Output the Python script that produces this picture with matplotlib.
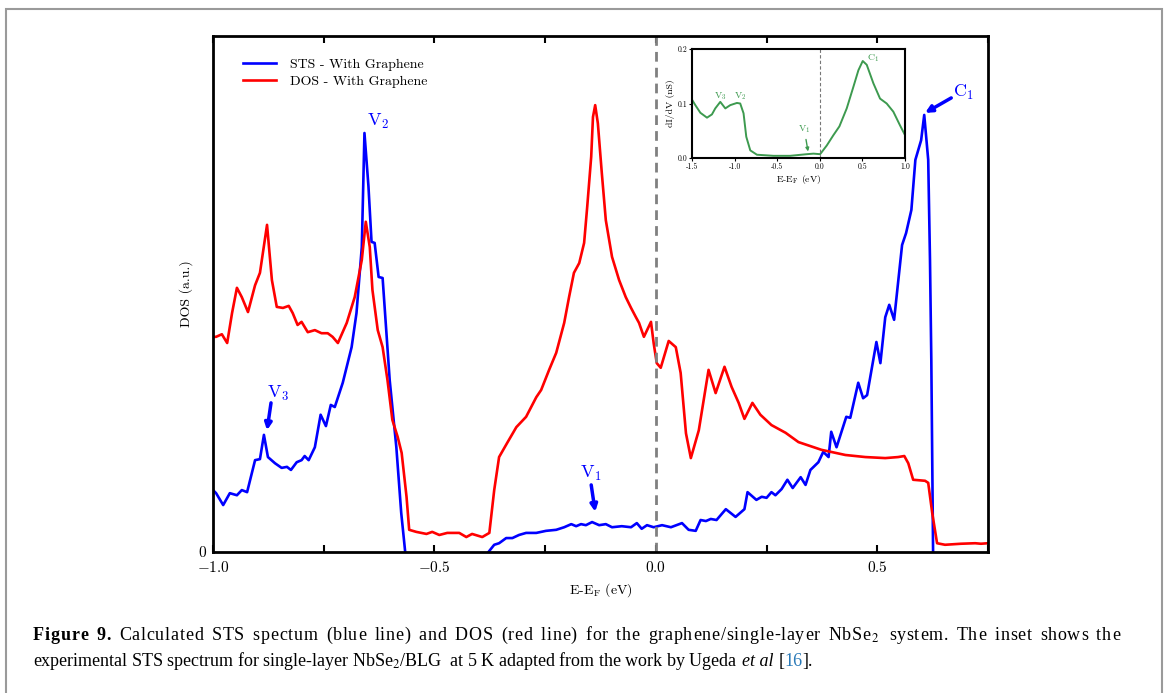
import numpy as np
import matplotlib
matplotlib.use("Agg")
import matplotlib.pyplot as plt
from matplotlib.patches import Rectangle
from matplotlib.font_manager import FontProperties

# -----------------------
# Data
# -----------------------
# STS - With Graphene (blue); NaN marks where the curve runs below zero
sts_e = [-1.000, -0.993, -0.977, -0.962, -0.946, -0.935, -0.923, -0.905, -0.894, -0.885,
         -0.876, -0.860, -0.845, -0.833, -0.824, -0.811, -0.800, -0.793, -0.784, -0.770,
         -0.757, -0.745, -0.734, -0.725, -0.707, -0.687, -0.676, -0.664, -0.658, -0.649,
         -0.642, -0.635, -0.626, -0.617, -0.601, -0.586, -0.575, -0.566, -0.470,
         -0.378, -0.365, -0.354, -0.338, -0.324, -0.309, -0.293, -0.270, -0.248, -0.225,
         -0.207, -0.191, -0.180, -0.169, -0.158, -0.144, -0.128, -0.113, -0.099, -0.077,
         -0.056, -0.043, -0.032, -0.020, -0.005, 0.014, 0.034, 0.059, 0.074, 0.090,
         0.101, 0.113, 0.124, 0.137, 0.158, 0.180, 0.200, 0.207, 0.227, 0.239,
         0.250, 0.261, 0.270, 0.284, 0.297, 0.309, 0.327, 0.338, 0.349, 0.367,
         0.378, 0.390, 0.396, 0.408, 0.430, 0.439, 0.457, 0.468, 0.477, 0.498,
         0.507, 0.518, 0.527, 0.538, 0.556, 0.565, 0.577, 0.586, 0.599, 0.606,
         0.615, 0.619, 0.622, 0.626]
sts_dos = [0.120, 0.114, 0.091, 0.114, 0.110, 0.120, 0.116, 0.178, 0.180, 0.227,
           0.184, 0.172, 0.163, 0.165, 0.159, 0.174, 0.178, 0.186, 0.178, 0.203,
           0.266, 0.244, 0.285, 0.281, 0.328, 0.397, 0.463, 0.591, 0.812, 0.709,
           0.601, 0.599, 0.533, 0.531, 0.333, 0.203, 0.076, 0.000, np.nan,
           0.000, 0.014, 0.017, 0.027, 0.027, 0.033, 0.037, 0.037, 0.041, 0.043,
           0.048, 0.054, 0.050, 0.054, 0.052, 0.058, 0.052, 0.054, 0.048, 0.050,
           0.048, 0.056, 0.045, 0.052, 0.048, 0.052, 0.048, 0.056, 0.043, 0.041,
           0.062, 0.060, 0.064, 0.062, 0.083, 0.068, 0.083, 0.116, 0.101, 0.107,
           0.105, 0.116, 0.110, 0.122, 0.140, 0.124, 0.145, 0.130, 0.159, 0.174,
           0.194, 0.184, 0.233, 0.203, 0.262, 0.260, 0.328, 0.298, 0.304, 0.407,
           0.366, 0.455, 0.479, 0.450, 0.595, 0.618, 0.663, 0.760, 0.798, 0.847,
           0.760, 0.566, 0.372, 0.000]

# DOS - With Graphene (red)
dos_e = [-1.000, -0.993, -0.980, -0.968, -0.957, -0.946, -0.935, -0.921, -0.905, -0.894,
         -0.878, -0.867, -0.856, -0.842, -0.829, -0.820, -0.809, -0.800, -0.786, -0.770,
         -0.755, -0.741, -0.730, -0.718, -0.698, -0.680, -0.664, -0.655, -0.646, -0.640,
         -0.628, -0.617, -0.606, -0.595, -0.583, -0.574, -0.563, -0.557, -0.541, -0.518,
         -0.505, -0.489, -0.471, -0.444, -0.428, -0.415, -0.392, -0.376, -0.365, -0.354,
         -0.336, -0.315, -0.293, -0.270, -0.259, -0.241, -0.225, -0.207, -0.196, -0.185,
         -0.173, -0.162, -0.155, -0.146, -0.142, -0.137, -0.131, -0.122, -0.113, -0.099,
         -0.083, -0.068, -0.056, -0.045, -0.038, -0.027, -0.011, -0.005, 0.002, 0.011,
         0.029, 0.045, 0.056, 0.068, 0.079, 0.097, 0.119, 0.135, 0.155, 0.171,
         0.187, 0.200, 0.218, 0.236, 0.261, 0.293, 0.322, 0.374, 0.428, 0.473,
         0.518, 0.547, 0.561, 0.570, 0.581, 0.608, 0.615, 0.624, 0.635, 0.653,
         0.689, 0.721, 0.734, 0.750]
dos_val = [0.417, 0.417, 0.422, 0.405, 0.463, 0.512, 0.494, 0.465, 0.517, 0.541,
           0.634, 0.527, 0.475, 0.473, 0.477, 0.463, 0.440, 0.446, 0.426, 0.430,
           0.424, 0.424, 0.417, 0.405, 0.444, 0.494, 0.566, 0.640, 0.591, 0.508,
           0.430, 0.397, 0.333, 0.256, 0.223, 0.192, 0.107, 0.043, 0.039, 0.035,
           0.039, 0.033, 0.037, 0.037, 0.029, 0.035, 0.029, 0.037, 0.120, 0.184,
           0.211, 0.242, 0.262, 0.300, 0.314, 0.353, 0.386, 0.444, 0.494, 0.541,
           0.560, 0.599, 0.669, 0.766, 0.843, 0.866, 0.831, 0.734, 0.643, 0.572,
           0.527, 0.494, 0.473, 0.455, 0.444, 0.417, 0.446, 0.405, 0.366, 0.357,
           0.409, 0.397, 0.347, 0.230, 0.182, 0.236, 0.353, 0.308, 0.359, 0.320,
           0.289, 0.258, 0.289, 0.266, 0.246, 0.231, 0.213, 0.198, 0.188, 0.184,
           0.182, 0.184, 0.186, 0.172, 0.140, 0.138, 0.134, 0.076, 0.017, 0.014,
           0.016, 0.017, 0.016, 0.017]

# Inset: experimental dI/dV (Ugeda et al)
inset_e = [-1.500, -1.461, -1.402, -1.324, -1.266, -1.227, -1.168, -1.109, -1.051, -0.973,
           -0.934, -0.895, -0.863, -0.816, -0.738, -0.543, -0.348, -0.152, -0.074, 0.004,
           0.082, 0.160, 0.230, 0.316, 0.395, 0.453, 0.504, 0.551, 0.629, 0.707,
           0.785, 0.863, 0.941, 1.000]
inset_didv = [0.107, 0.097, 0.083, 0.074, 0.080, 0.091, 0.103, 0.091, 0.097, 0.101,
              0.100, 0.082, 0.039, 0.014, 0.006, 0.004, 0.004, 0.007, 0.008, 0.007,
              0.023, 0.042, 0.058, 0.091, 0.131, 0.161, 0.178, 0.171, 0.137, 0.109,
              0.100, 0.085, 0.060, 0.042]

# -----------------------
# Style
# -----------------------
plt.rcParams["font.family"] = "cmr10"
plt.rcParams["mathtext.fontset"] = "cm"
plt.rcParams["axes.formatter.use_mathtext"] = True
plt.rcParams["axes.unicode_minus"] = True

BLUE = "#0000ff"
RED = "#ff0000"
GREEN = "#3d9a4f"

fig = plt.figure(figsize=(11.68, 6.93), dpi=100)

# outer frame of the figure panel
fig.patches.append(Rectangle((6 / 1168, -0.05), 1156 / 1168, 1.05 - 9 / 693,
                             transform=fig.transFigure, fill=False,
                             edgecolor="#9a9a9a", lw=1.5))

# -----------------------
# Main axes
# -----------------------
ax = fig.add_axes([213 / 1168, 1 - 552 / 693, 775 / 1168, 516 / 693])
ax.plot(sts_e, sts_dos, color=BLUE, lw=1.9, label="STS - With Graphene")
ax.plot(dos_e, dos_val, color=RED, lw=1.9, label="DOS - With Graphene")
ax.axvline(0.0, color="#808080", lw=2, linestyle=(0, (3.5, 2.2)))

ax.set_xlim(-1.0, 0.75)
ax.set_ylim(0, 1.0)
ax.set_xticks(np.arange(-1.0, 0.76, 0.25))
ax.set_xticklabels(["$-1.0$", "", "$-0.5$", "", "$0.0$", "", "$0.5$", ""])
ax.set_yticks([0])
ax.set_yticklabels(["0"])
ax.tick_params(axis="x", direction="in", top=True, length=5, width=1.5, labelsize=11, pad=6)
ax.tick_params(axis="y", length=0, labelsize=11, pad=5)
for s in ax.spines.values():
    s.set_linewidth(2)
ax.set_xlabel("E-E$_\\mathrm{F}$ (eV)", fontsize=10, labelpad=4)
ax.set_ylabel("DOS (a.u.)", fontsize=10, labelpad=4)

ax.legend(loc="upper left", bbox_to_anchor=(0.022, 0.982), frameon=False,
          fontsize=10, handlelength=2.4, handletextpad=1.0, labelspacing=0.35)

# peak labels
arrow_kw = dict(arrowstyle="-|>", color=BLUE, lw=2.5, mutation_scale=10, shrinkA=0, shrinkB=0)
ax.text(-0.628, 0.835, "V$_2$", color=BLUE, fontsize=13, ha="center", va="center")
ax.text(-0.854, 0.308, "V$_3$", color=BLUE, fontsize=13, ha="center", va="center")
ax.annotate("", xy=(-0.878, 0.236), xytext=(-0.869, 0.289), arrowprops=arrow_kw)
ax.text(-0.146, 0.152, "V$_1$", color=BLUE, fontsize=13, ha="center", va="center")
ax.annotate("", xy=(-0.137, 0.078), xytext=(-0.146, 0.130), arrowprops=arrow_kw)
ax.text(0.694, 0.890, "C$_1$", color=BLUE, fontsize=13, ha="center", va="center")
ax.annotate("", xy=(0.608, 0.851), xytext=(0.667, 0.880), arrowprops=arrow_kw)

# -----------------------
# Inset
# -----------------------
ins = fig.add_axes([692 / 1168, 1 - 158 / 693, 213 / 1168, 109 / 693])
ins.plot(inset_e, inset_didv, color=GREEN, lw=1.4)
ins.axvline(0.0, color="#777777", lw=0.8, linestyle=(0, (3, 2)))
ins.set_xlim(-1.5, 1.0)
ins.set_ylim(0, 0.2)
ins.set_xticks([-1.5, -1.0, -0.5, 0.0, 0.5, 1.0])
ins.set_xticklabels(["-1.5", "-1.0", "-0.5", "0.0", "0.5", "1.0"])
ins.set_yticks([0.0, 0.1, 0.2])
ins.set_yticklabels(["0.0", "0.1", "0.2"])
ins.tick_params(labelsize=5.5, length=2, width=0.8, pad=1.5)
for s in ins.spines.values():
    s.set_linewidth(1.5)
ins.set_xlabel("E-E$_\\mathrm{F}$ (eV)", fontsize=7, labelpad=1)
ins.set_ylabel("dI/dV (nS)", fontsize=7, labelpad=2)
ins.text(-1.171, 0.113, "V$_3$", color=GREEN, fontsize=7, ha="center", va="center")
ins.text(-0.937, 0.113, "V$_2$", color=GREEN, fontsize=7, ha="center", va="center")
ins.text(0.624, 0.184, "C$_1$", color=GREEN, fontsize=7, ha="center", va="center")
ins.text(-0.185, 0.052, "V$_1$", color=GREEN, fontsize=7, ha="center", va="center")
ins.annotate("", xy=(-0.138, 0.012), xytext=(-0.162, 0.034),
             arrowprops=dict(arrowstyle="-|>", color=GREEN, lw=1, mutation_scale=5,
                             shrinkA=0, shrinkB=0))

# -----------------------
# Caption: first line justified (mostly word spacing), second line left aligned
# -----------------------
renderer = fig.canvas.get_renderer()
CAP_SIZE = 13.0
x_left, x_right = 33 / 1168, 1120 / 1168
W = fig.bbox.width
WORD_WEIGHT = 4  # word gaps absorb 4x more of the extra space than letter gaps


def cap_font(**kw):
    return FontProperties(family="Liberation Serif", size=CAP_SIZE, math_fontfamily="stix", **kw)


REG, BOLD = cap_font(), cap_font(weight="bold")


def advance(tok, prop):
    # advance width of tok, measured between two sentinel glyphs
    w2 = renderer.get_text_width_height_descent("XX", prop, ismath=False)[0]
    w3 = renderer.get_text_width_height_descent("X" + tok + "X", prop, ismath="$" in tok)[0]
    return (w3 - w2) / W


def tokens(text, prop):
    out = []
    for i, word in enumerate(text.split(" ")):
        if i:
            out.append((" ", prop))
        if "$" in word:
            head = word[:word.index("$")]
            out += [(c, prop) for c in head] + [(word[len(head):], prop)]
        else:
            out += [(c, prop) for c in word]
    return out


toks = tokens("Figure 9.", BOLD) + [(" ", REG)] + tokens(
    "Calculated STS spectum (blue line) and DOS (red line) for the "
    "graphene/single-layer NbSe$_2$ system. The inset shows the", REG)
advs = [advance(t, p) for t, p in toks]
n_sp = sum(t == " " for t, _ in toks)
n_let = len(toks) - 1 - n_sp
e_let = (x_right - x_left - sum(advs)) / (n_let + WORD_WEIGHT * n_sp)
x = x_left
y1 = 1 - 640 / 693
for (t, p), a in zip(toks, advs):
    if t != " ":
        fig.text(x, y1, t, fontproperties=p, va="baseline")
    x += a + (WORD_WEIGHT * e_let if t == " " else e_let)

CAP = dict(family="Liberation Serif", fontsize=CAP_SIZE, math_fontfamily="stix", va="baseline")
space = 0.26 * CAP_SIZE * 100 / 72 / W
x = x_left
y2 = 1 - 666 / 693
for txt, extra_kw, gap in [
    ("experimental STS spectrum for single-layer NbSe$_2$/BLG  at 5 K adapted from the work by Ugeda",
     {}, 0),
    ("et al", {"style": "italic"}, space),
    ("[", {}, space),
    ("16", {"color": "#2a7ab8"}, 0),
    ("].", {}, 0),
]:
    x += gap
    t = fig.text(x, y2, txt, **{**CAP, **extra_kw})
    x += t.get_window_extent(renderer).width / W

fig.savefig("out.png", dpi=100)
